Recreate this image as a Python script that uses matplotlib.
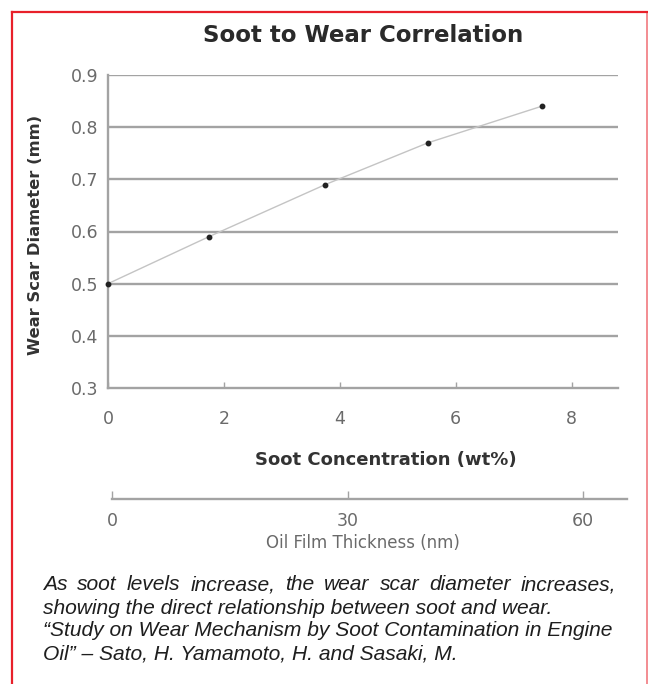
import matplotlib.pyplot as plt
from matplotlib.lines import Line2D

# data
soot = [0, 1.74, 3.75, 5.52, 7.48]
wear = [0.50, 0.59, 0.69, 0.77, 0.84]
y_ticks = [0.3, 0.4, 0.5, 0.6, 0.7, 0.8, 0.9]
x_ticks = [0, 2, 4, 6, 8]
film_ticks = [0, 30, 60]

caption = [
    "As soot levels increase, the wear scar diameter increases,",
    "showing the direct relationship between soot and wear.",
    "\u201cStudy on Wear Mechanism by Soot Contamination in Engine",
    "Oil\u201d \u2013 Sato, H. Yamamoto, H. and Sasaki, M.",
]
justify = [True, False, False, False]

W, H = 648, 684
fig = plt.figure(figsize=(W / 100, H / 100), dpi=100)

grid_col = '#a3a3a3'
tick_col = '#6a6a6a'

# main axes
ax = fig.add_axes([108 / W, 1 - 388 / H, 510 / W, 313 / H])
ax.plot(soot, wear, color='#c4c4c4', lw=1.0, zorder=3)
ax.plot(soot, wear, 'o', color='#222222', ms=3.2, zorder=4, clip_on=False)
ax.set_xlim(0, 8.8)
ax.set_ylim(0.3, 0.9)
ax.set_yticks(y_ticks)
ax.set_yticklabels([f'{v:.1f}' for v in y_ticks])
ax.set_xticks(x_ticks)
for v in y_ticks[1:]:
    ax.axhline(v, color=grid_col, lw=1.7, zorder=1)
for s in ['top', 'right']:
    ax.spines[s].set_visible(False)
for s in ['left', 'bottom']:
    ax.spines[s].set_color(grid_col)
    ax.spines[s].set_linewidth(1.7)
ax.tick_params(axis='y', length=0, pad=7, labelsize=12.5, labelcolor=tick_col)
ax.tick_params(axis='x', direction='in', length=4, width=1, color=grid_col,
               pad=16, labelsize=12.5, labelcolor=tick_col)
ax.set_xlabel('Soot Concentration (wt%)', fontsize=13, fontweight='bold',
              color='#333333')
ax.xaxis.set_label_coords(0.545, -0.2)
ax.set_ylabel('Wear Scar Diameter (mm)', fontsize=11.8, fontweight='bold',
              color='#333333')
ax.yaxis.set_label_coords(-0.128, 0.49)

# secondary axis: oil film thickness
ax2 = fig.add_axes([112 / W, 1 - 499 / H, 515 / W, 0.001])
ax2.set_xlim(0, 65.6)
ax2.set_ylim(0, 1)
ax2.set_yticks([])
ax2.set_xticks(film_ticks)
for s in ['top', 'right', 'left']:
    ax2.spines[s].set_visible(False)
ax2.spines['bottom'].set_color(grid_col)
ax2.spines['bottom'].set_linewidth(1.7)
ax2.tick_params(axis='x', direction='in', length=6, width=1, color=grid_col,
                pad=9, labelsize=12.5, labelcolor=tick_col)
ax2.patch.set_alpha(0)

fig.text(363 / W, 1 - 543 / H, 'Oil Film Thickness (nm)', ha='center',
         va='center', fontsize=12, color='#6a6a6a')

# title
fig.text(363 / W, 1 - 35 / H, 'Soot to Wear Correlation', ha='center',
         va='center', fontsize=16.5, fontweight='heavy', color='#2a2a2a')

# caption, first line justified to the right edge
cap_kw = dict(fontsize=15.15, style='italic', family='Liberation Sans',
              color='#1e1e1e', va='center')
left, right = 43, 616
renderer = fig.canvas.get_renderer()


def text_width(s):
    t = fig.text(0, 0, s, **cap_kw)
    w = t.get_window_extent(renderer).width
    t.remove()
    return w


for i, line in enumerate(caption):
    y = 1 - (585 + i * 23) / H
    if not justify[i]:
        fig.text(left / W, y, line, ha='left', **cap_kw)
        continue
    words = line.split(' ')
    extra = (right - left - text_width(line)) / (len(words) - 1)
    for k, w in enumerate(words):
        if k == 0:
            x = left
        else:
            prefix = ' '.join(words[:k + 1])
            x = left + text_width(prefix) - text_width(w) + k * extra
        fig.text(x / W, y, w, ha='left', **cap_kw)

# red frame
red = '#e8202a'
fig.add_artist(Line2D([11.5 / W, 11.5 / W], [0, 1 - 12 / H], color=red, lw=1.6,
                      transform=fig.transFigure))
fig.add_artist(Line2D([11.5 / W, 1], [1 - 12 / H, 1 - 12 / H], color=red, lw=1.6,
                      transform=fig.transFigure))
fig.add_artist(Line2D([647 / W, 647 / W], [0, 1 - 12 / H], color=red, lw=1.2,
                      alpha=0.6, transform=fig.transFigure))

fig.savefig('out.png', dpi=100)
